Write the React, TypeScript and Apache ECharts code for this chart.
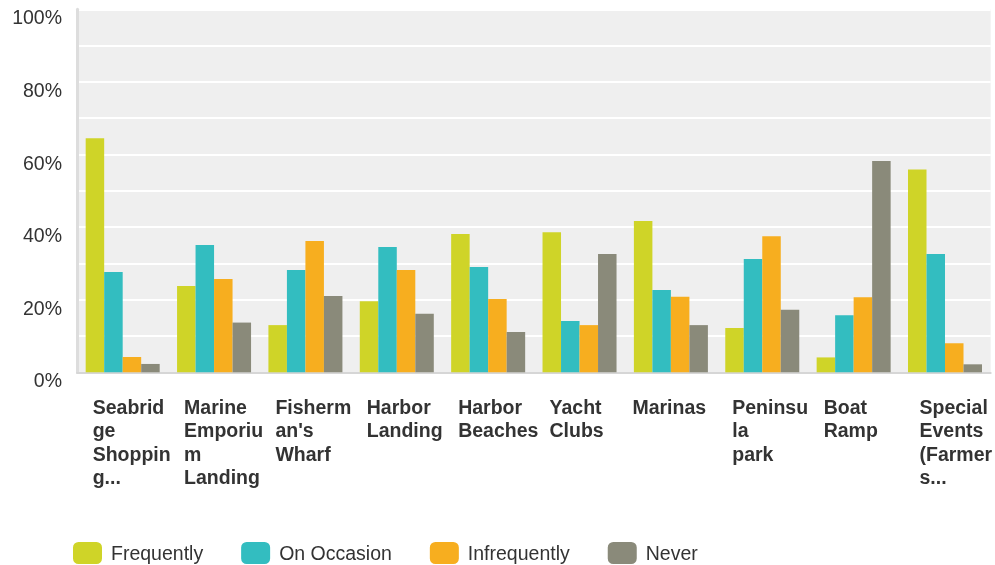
import React, { useEffect, useRef } from "react";
import * as echarts from "echarts";

const categories = [
  "Seabridge Shopping...",
  "Marine Emporium Landing",
  "Fisherman's Wharf",
  "Harbor Landing",
  "Harbor Beaches",
  "Yacht Clubs",
  "Marinas",
  "Peninsula park",
  "Boat Ramp",
  "Special Events (Farmers...",
];

const tickLabels = [
  ["Seabrid", "ge", "Shoppin", "g..."],
  ["Marine", "Emporiu", "m", "Landing"],
  ["Fisherm", "an's", "Wharf"],
  ["Harbor", "Landing"],
  ["Harbor", "Beaches"],
  ["Yacht", "Clubs"],
  ["Marinas"],
  ["Peninsu", "la", "park"],
  ["Boat", "Ramp"],
  ["Special", "Events", "(Farmer", "s..."],
];

const seriesNames = ["Frequently", "On Occasion", "Infrequently", "Never"];

const frequently = [64.5, 23.8, 13.0, 19.6, 38.1, 38.6, 41.7, 12.2, 4.1, 55.9];
const onOccasion = [27.6, 35.1, 28.2, 34.5, 29.0, 14.1, 22.7, 31.2, 15.7, 32.6];
const infrequently = [4.2, 25.7, 36.2, 28.2, 20.2, 13.0, 20.8, 37.5, 20.7, 8.0];
const never = [2.3, 13.7, 21.0, 16.1, 11.1, 32.6, 13.0, 17.2, 58.2, 2.2];

const yTicks = [0, 20, 40, 60, 80, 100];

const colors = ["#cfd428", "#33bdc0", "#f7ae1f", "#8a8a7a"];

const FONT = "'Liberation Sans', Arial, sans-serif";

export default function App() {
  const ref = useRef<HTMLDivElement>(null);

  useEffect(() => {
    if (!ref.current) return;
    const chart = echarts.init(ref.current, undefined, { renderer: "svg" });
    const values = [frequently, onOccasion, infrequently, never];
    const labelStyle = (w: number) => ({
      width: w,
      align: "left",
      fontSize: 19.5,
      fontWeight: "bold",
      lineHeight: 23.3,
      color: "#333333",
      fontFamily: FONT,
    });
    chart.setOption({
      animation: false,
      textStyle: { fontFamily: FONT },
      color: colors,
      grid: {
        left: 77,
        right: 2,
        top: 9.3,
        bottom: 192.7,
        show: true,
        backgroundColor: "#efefef",
        borderWidth: 0,
        containLabel: false,
      },
      legend: {
        data: seriesNames,
        left: 73,
        top: 542,
        padding: 0,
        itemWidth: 29,
        itemHeight: 22,
        itemGap: 38,
        icon: "roundRect",
        selectedMode: false,
        textStyle: {
          fontSize: 19.5,
          color: "#333333",
          fontFamily: FONT,
          padding: [0, 0, 0, 4],
        },
      },
      xAxis: {
        type: "category",
        data: categories,
        axisTick: { show: false },
        axisLine: { show: true, lineStyle: { color: "#d6d6d6", width: 2 } },
        axisLabel: {
          interval: 0,
          margin: 23,
          align: "center",
          formatter: (_v: string, idx: number) => {
            const key = idx === 6 ? "b" : idx === 9 ? "c" : "a";
            return tickLabels[idx].map((l) => `{${key}|${l}}`).join("\n");
          },
          rich: {
            a: labelStyle(60),
            b: labelStyle(77),
            c: labelStyle(51),
          },
        },
        splitLine: { show: false },
      },
      yAxis: {
        type: "value",
        min: 0,
        max: 100,
        interval: 10,
        axisLine: { show: true, lineStyle: { color: "#dddddd", width: 3 } },
        axisTick: { show: false },
        splitLine: { show: true, lineStyle: { color: "#ffffff", width: 2 } },
        axisLabel: {
          margin: 15,
          fontSize: 19.5,
          color: "#333333",
          fontFamily: FONT,
          verticalAlign: "top",
          lineHeight: 16,
          formatter: (v: number) => (yTicks.includes(v) ? `${v}%` : ""),
        },
      },
      series: seriesNames.map((name, i) => ({
        name,
        type: "bar",
        data: values[i],
        barGap: "0%",
        barCategoryGap: "19%",
        itemStyle: { color: colors[i] },
        emphasis: { disabled: true },
      })),
    });
    return () => chart.dispose();
  }, []);

  return (
    <div
      ref={ref}
      style={{ position: "fixed", left: 0, top: 0, width: 995, height: 565 }}
    />
  );
}
